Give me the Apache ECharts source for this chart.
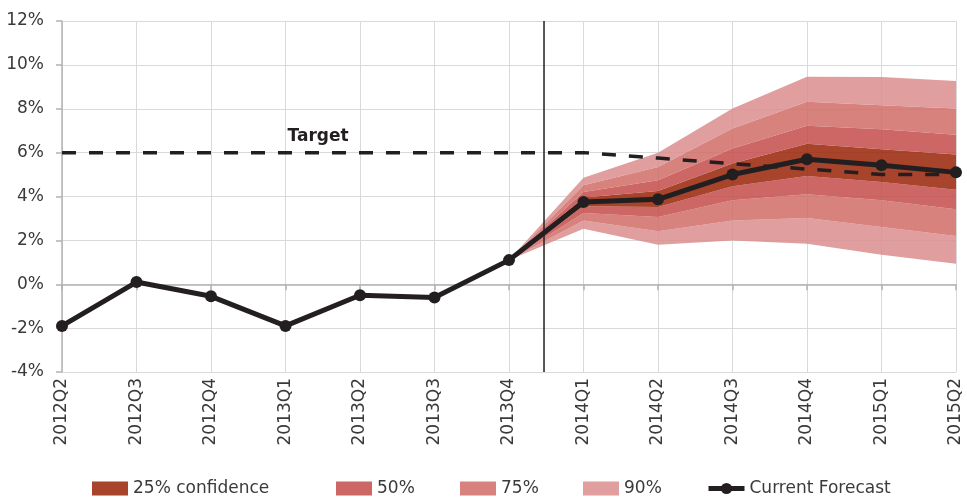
<!DOCTYPE html>
<html>
<head>
<meta charset="utf-8">
<script src="https://cdn.jsdelivr.net/npm/echarts@6/dist/echarts.min.js"></script>
<style>html,body{margin:0;padding:0;background:#fff;}#c{width:967px;height:498px;}</style>
</head>
<body>
<div id="c"></div>
<script>
// ---- data ----
var categories = ['2012Q2','2012Q3','2012Q4','2013Q1','2013Q2','2013Q3','2013Q4','2014Q1','2014Q2','2014Q3','2014Q4','2015Q1','2015Q2'];
var forecast = [-1.9, 0.1, -0.55, -1.9, -0.5, -0.6, 1.1, 3.75, 3.87, 5.0, 5.7, 5.42, 5.1];
var target   = [6, 6, 6, 6, 6, 6, 6, 6, 5.75, 5.5, 5.25, 5.0, 5.0];
var lo90 = [null,null,null,null,null,null, 1.1, 2.53, 1.80, 2.00, 1.85, 1.35, 0.94];
var lo75 = [null,null,null,null,null,null, 1.1, 2.91, 2.42, 2.91, 3.02, 2.61, 2.20];
var lo50 = [null,null,null,null,null,null, 1.1, 3.25, 3.06, 3.83, 4.10, 3.83, 3.42];
var lo25 = [null,null,null,null,null,null, 1.1, 3.55, 3.52, 4.47, 4.94, 4.66, 4.31];
var hi25 = [null,null,null,null,null,null, 1.1, 3.95, 4.25, 5.50, 6.41, 6.15, 5.91];
var hi50 = [null,null,null,null,null,null, 1.1, 4.20, 4.74, 6.19, 7.22, 7.07, 6.82];
var hi75 = [null,null,null,null,null,null, 1.1, 4.51, 5.35, 7.10, 8.32, 8.16, 8.01];
var hi90 = [null,null,null,null,null,null, 1.1, 4.85, 5.99, 8.01, 9.46, 9.45, 9.26];
var dividerPos = 6.47; // position between 2013Q4 and 2014Q1 (category index units)
var yTicks = {min: -4, max: 12, interval: 2};
var targetLabel = 'Target';
var targetLabelAt = '2013Q1';
var legendNames = ['25% confidence', '50%', '75%', '90%', 'Current Forecast'];

// ---- build ----
var FONT = 'DejaVu Sans';
var TXT = '#3a3a3a';
var colors = {
  c25: 'rgb(153,34,7)',  c50: 'rgb(196,76,74)', c75: 'rgb(209,108,103)', c90: 'rgb(219,141,141)'
};
var legendColors = ['#a8432c', '#cd6765', '#d8827e', '#e09e9e', null];
var legendLeft = [92, 336, 460, 583, 706];
var AOP = 0.85;

function diff(a, b) {
  return a.map(function (v, i) { return (v == null || b[i] == null) ? null : +(v - b[i]).toFixed(4); });
}
function band(name, data, color) {
  return {
    name: name, type: 'line', stack: 'fan', data: data,
    symbol: 'none', showSymbol: false, silent: true,
    lineStyle: {width: 0, opacity: 0}, itemStyle: {color: color},
    areaStyle: {color: color, opacity: AOP}, z: 1
  };
}

var series = [
  {name: 'base', type: 'line', stack: 'fan', data: lo90, symbol: 'none', silent: true,
   lineStyle: {width: 0, opacity: 0}, z: 1},
  band(legendNames[3], diff(lo75, lo90), colors.c90),
  band(legendNames[2], diff(lo50, lo75), colors.c75),
  band(legendNames[1], diff(lo25, lo50), colors.c50),
  band(legendNames[0], diff(hi25, lo25), colors.c25),
  band(legendNames[1], diff(hi50, hi25), colors.c50),
  band(legendNames[2], diff(hi75, hi50), colors.c75),
  band(legendNames[3], diff(hi90, hi75), colors.c90),
  {name: 'Target', type: 'line', data: target, symbol: 'none', silent: true, z: 3,
   lineStyle: {color: '#231f20', width: 3.5, type: [14, 13]},
   markPoint: {
     symbol: 'circle', symbolSize: 0, silent: true,
     data: [{coord: [targetLabelAt, target[categories.indexOf(targetLabelAt)]]}],
     label: {show: true, formatter: targetLabel, position: 'right', distance: 2, offset: [0, -16],
             fontFamily: FONT, fontWeight: 'bold', fontSize: 17, color: '#231f20'}
   }},
  {name: 'Divider', type: 'line', xAxisIndex: 2, data: [[dividerPos, yTicks.min], [dividerPos, yTicks.max]],
   symbol: 'none', silent: true, z: 4, lineStyle: {color: '#231f20', width: 1.5}},
  {name: legendNames[4], type: 'line', data: forecast, z: 5,
   symbol: 'circle', symbolSize: 12, showAllSymbol: true,
   lineStyle: {color: '#231f20', width: 5}, itemStyle: {color: '#231f20'}}
];

var legends = legendNames.map(function (n, i) {
  var item = {name: n};
  if (legendColors[i]) { item.icon = 'rect'; item.itemStyle = {color: legendColors[i]}; }
  var lg = {
    left: legendLeft[i], top: 480, padding: 0, itemWidth: 36, itemHeight: 14,
    textStyle: {fontFamily: FONT, fontSize: 17, color: TXT},
    data: [item], selectedMode: false
  };
  if (!legendColors[i]) { lg.lineStyle = {width: 5, color: '#231f20'}; }
  return lg;
});

var chart = echarts.init(document.getElementById('c'), null, {renderer: 'canvas'});
chart.setOption({
  animation: false,
  backgroundColor: '#fff',
  grid: {left: 62, right: 11, top: 21, bottom: 126, containLabel: false},
  xAxis: [
    {type: 'category', data: categories, boundaryGap: false, position: 'bottom',
     axisLine: {show: false, onZero: false}, axisTick: {show: false},
     splitLine: {show: true, lineStyle: {color: '#d9d9d9', width: 1}},
     axisLabel: {rotate: 90, margin: 6, fontFamily: FONT, fontSize: 17, color: TXT, interval: 0}},
    {type: 'category', data: categories, boundaryGap: false, position: 'bottom',
     axisLine: {show: true, onZero: true, lineStyle: {color: '#b3b3b3', width: 1.5}},
     axisTick: {show: true, length: 6, interval: 0, lineStyle: {color: '#b3b3b3', width: 1.5}},
     axisLabel: {show: false}, splitLine: {show: false}},
    {type: 'value', min: 0, max: categories.length - 1, show: false}
  ],
  yAxis: {
    type: 'value', min: yTicks.min, max: yTicks.max, interval: yTicks.interval,
    axisLine: {show: true, lineStyle: {color: '#b3b3b3', width: 1.5}},
    axisTick: {show: true, length: 6, lineStyle: {color: '#b3b3b3', width: 1.5}},
    splitLine: {show: true, lineStyle: {color: '#d9d9d9', width: 1}},
    axisLabel: {formatter: '{value}%', margin: 18, fontFamily: FONT, fontSize: 17, color: TXT}
  },
  legend: legends,
  series: series
});
</script>
</body>
</html>
